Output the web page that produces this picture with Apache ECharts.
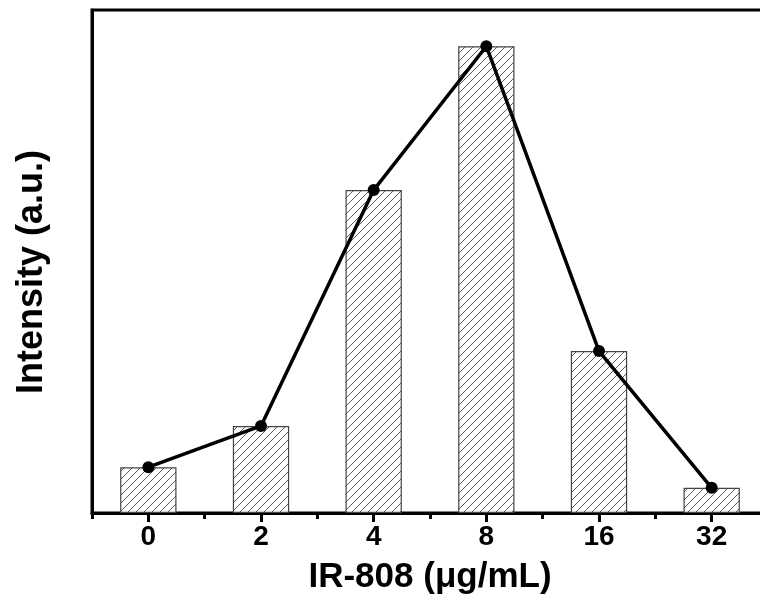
<!DOCTYPE html>
<html>
<head>
<meta charset="utf-8">
<script src="https://cdn.jsdelivr.net/npm/echarts@6/dist/echarts.min.js"></script>
<style>
html,body{margin:0;padding:0;background:#fff;}
#chart{width:760px;height:606px;}
</style>
</head>
<body>
<div id="chart"></div>
<script>
const categories = ['0', '2', '4', '8', '16', '32'];
const barValues = [9.1, 17.3, 64.2, 92.8, 32.2, 5.0];
const lineValues = [9.1, 17.3, 64.2, 92.8, 32.2, 5.0];

// hatch pattern
const pc = document.createElement('canvas');
pc.width = 8; pc.height = 8;
const pctx = pc.getContext('2d');
pctx.fillStyle = '#ffffff';
pctx.fillRect(0, 0, 8, 8);
pctx.strokeStyle = '#5a5a5a';
pctx.lineWidth = 1;
pctx.beginPath();
pctx.moveTo(-1, 9); pctx.lineTo(9, -1);
pctx.moveTo(-1, 1); pctx.lineTo(1, -1);
pctx.moveTo(7, 9); pctx.lineTo(9, 7);
pctx.stroke();

const chart = echarts.init(document.getElementById('chart'), null, {renderer: 'canvas'});
const FONT = 'Liberation Sans, Arial, sans-serif';
chart.setOption({
  animation: false,
  backgroundColor: '#fff',
  grid: {left: 92, width: 676, top: 10, height: 503, outerBoundsMode: 'none', containLabel: false, show: true, borderColor: '#000', borderWidth: 3, backgroundColor: 'transparent'},
  xAxis: [{
    type: 'category',
    data: categories,
    position: 'bottom',
    name: 'IR-808 (μg/mL)',
    nameLocation: 'middle',
    nameGap: 47,
    nameTextStyle: {fontFamily: FONT, fontWeight: 'bold', fontSize: 35, color: '#000'},
    axisLine: {show: true, lineStyle: {color: '#000', width: 3}},
    axisTick: {show: true, alignWithLabel: true, length: 9, lineStyle: {color: '#000', width: 3}},
    axisLabel: {fontFamily: FONT, fontWeight: 'bold', fontSize: 28, color: '#000', margin: 10},
    splitLine: {show: false}
  }, {
    type: 'category',
    data: categories,
    position: 'bottom',
    axisLine: {show: false},
    axisTick: {show: true, alignWithLabel: false, length: 6, lineStyle: {color: '#000', width: 3}},
    axisLabel: {show: false},
    splitLine: {show: false}
  }],
  yAxis: {
    type: 'value',
    min: 0,
    max: 100,
    name: 'Intensity (a.u.)',
    nameLocation: 'middle',
    nameGap: 42,
    nameTextStyle: {fontFamily: FONT, fontWeight: 'bold', fontSize: 36, color: '#000', padding: [0, 21, 0, 0]},
    axisLine: {show: true, lineStyle: {color: '#000', width: 3}},
    axisTick: {show: false},
    axisLabel: {show: false},
    splitLine: {show: false}
  },
  series: [{
    type: 'bar',
    data: barValues,
    barWidth: '50%',
    itemStyle: {color: {image: pc, repeat: 'repeat'}, borderColor: '#444', borderWidth: 1.2},
    z: 2
  }, {
    type: 'line',
    data: lineValues,
    symbol: 'circle',
    symbolSize: 12,
    itemStyle: {color: '#000'},
    lineStyle: {color: '#000', width: 3.5},
    z: 3
  }]
});
</script>
</body>
</html>
